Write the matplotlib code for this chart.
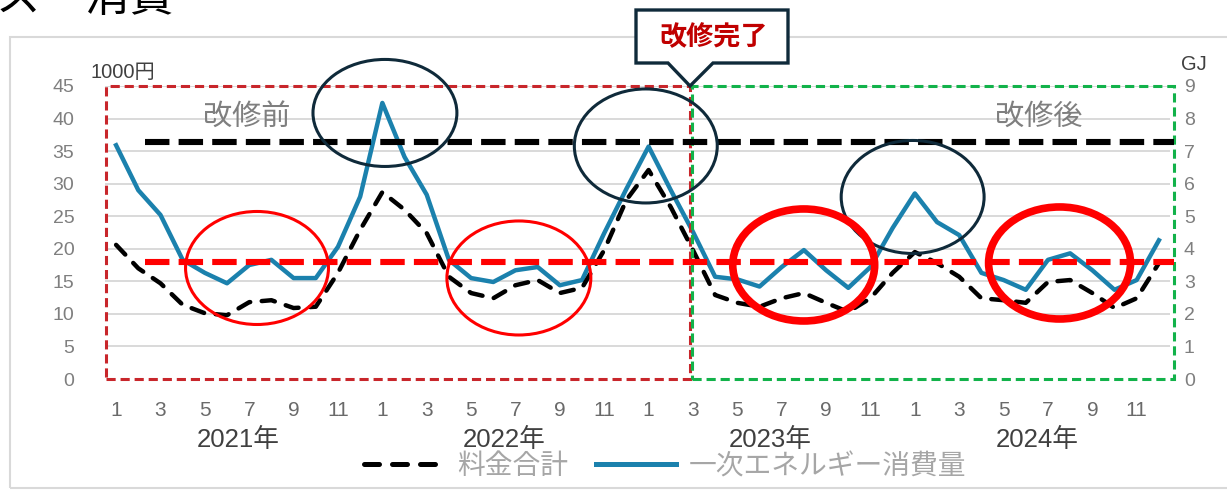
import matplotlib
matplotlib.use("Agg")
import matplotlib.pyplot as plt
from matplotlib.patches import Ellipse, Rectangle, Polygon
from matplotlib.lines import Line2D
import numpy as np

# ---------------- data ----------------
years = ["2021年", "2022年", "2023年", "2024年"]
month_labels = ["1", "3", "5", "7", "9", "11"]
# 料金合計 (1000円), Jan 2021 .. Dec 2024
cost = [20.6, 17.0, 14.7, 11.4, 10.1, 9.8, 11.8, 12.1, 10.9, 11.1, 16.3, 22.9,
        28.7, 26.0, 22.4, 15.7, 13.2, 12.4, 14.4, 15.2, 13.2, 14.0, 19.8, 27.5,
        32.1, 26.4, 19.8, 12.9, 11.7, 11.1, 12.4, 13.2, 11.7, 10.3, 12.4, 16.3,
        19.5, 17.8, 15.7, 12.4, 12.1, 11.7, 14.9, 15.2, 13.2, 10.9, 12.4, 17.8]
# 一次エネルギー消費量 (GJ)
energy = [7.18, 5.80, 5.04, 3.66, 3.26, 2.94, 3.50, 3.66, 3.10, 3.10, 4.06, 5.60,
          8.48, 6.82, 5.66, 3.66, 3.10, 2.98, 3.34, 3.44, 2.88, 3.04, 4.48, 5.84,
          7.14, 5.80, 4.52, 3.14, 3.06, 2.84, 3.44, 3.96, 3.34, 2.80, 3.44, 4.64,
          5.70, 4.82, 4.42, 3.26, 3.04, 2.74, 3.66, 3.86, 3.34, 2.74, 3.04, 4.26]
ref_high = 36.4   # black dashed reference (1000円)
ref_low = 17.9    # red dashed reference (1000円)
left_ticks = list(range(0, 46, 5))
right_ticks = list(range(0, 10))

FAM = ['Liberation Sans', 'Noto Sans CJK JP', 'DejaVu Sans']
JFAM = ['Noto Sans CJK JP', 'DejaVu Sans']
plt.rcParams['font.family'] = FAM

W, H = 1227, 490
fig = plt.figure(figsize=(W / 100, H / 100), dpi=100)

def fx(px):
    return px / W

def fy(py):
    return 1 - py / H

# outer light frame
fig.patches.append(Rectangle((fx(10), fy(488)), 1.2, fy(37) - fy(488),
                             transform=fig.transFigure, fill=False,
                             edgecolor='#d9d9d9', lw=1.5, zorder=0))

# cropped title (cut off at the top edge, as in the source)
fig.text(fx(-4), fy(11), "ス　消費", fontsize=32, family=JFAM, color='black',
         ha='left', va='baseline')

x0, x1, y0, y1 = 105, 1170, 86, 379
ax = fig.add_axes([fx(x0), fy(y1), fx(x1) - fx(x0), fy(y0) - fy(y1)])
ax2 = ax.twinx()
ax.set_zorder(ax2.get_zorder() + 1)
ax.patch.set_visible(False)

n = len(cost)
xs = np.arange(n)
ax.set_xlim(-0.5, n - 0.5)
ax.set_ylim(0, 45)
ax2.set_ylim(0, 9)

for a in (ax, ax2):
    for s in a.spines.values():
        s.set_visible(False)

# grid on ax2 (below everything)
for t in right_ticks[1:]:
    ax2.axhline(t, color='#d9d9d9', lw=1.4, zorder=0)

# blue line (GJ)
ax2.plot(xs, energy, color='#1b81ad', lw=3.2, solid_joinstyle='round', zorder=2)

# black dashed cost line
ln, = ax.plot(xs, cost, color='black', lw=3.2, dash_capstyle='round', zorder=3)
ln.set_dashes((3.0, 2.6))

# ticks
ax.set_yticks(left_ticks)
ax.set_yticklabels([str(t) for t in left_ticks])
ax2.set_yticks(right_ticks)
ax2.set_yticklabels([str(t) for t in right_ticks])
ax.tick_params(axis='y', length=0, pad=22, labelsize=14, labelcolor='#7f7f7f')
ax2.tick_params(axis='y', length=0, pad=10, labelsize=14, labelcolor='#7f7f7f')
xt = list(range(0, n, 2))
ax.set_xticks(xt)
ax.set_xticklabels([month_labels[(i % 12) // 2] for i in xt])
ax.tick_params(axis='x', length=0, pad=16, labelsize=15, labelcolor='#6a6a6a')

# year labels
for k, yl in enumerate(years):
    ax.text(k * 12 + 5.5, -9.3, yl, ha='center', va='center', fontsize=18.5,
            color='#404040', clip_on=False)

# axis unit labels
fig.text(fx(91), fy(72), "1000円", fontsize=14.5, color='#404040', ha='left', va='center')
fig.text(fx(1181), fy(65), "GJ", fontsize=14.5, color='#404040', ha='left', va='center')

# period boxes
ax.add_patch(Rectangle((-0.45, 0), 25.85 + 0.45, 45, fill=False, edgecolor='#c8262b',
                       lw=2.2, ls=(0, (3, 1.6)), clip_on=False, zorder=4))
ax.add_patch(Rectangle((25.95, 0), 47.7 - 25.95, 45, fill=False, edgecolor='#12b24a',
                       lw=2.2, ls=(0, (3, 1.6)), clip_on=False, zorder=4))

# reference lines
for yv, col in ((ref_high, 'black'), (ref_low, '#ff0000')):
    l = Line2D([1.3, 47.7], [yv, yv], color=col, lw=4.4, dash_capstyle='butt',
               clip_on=False, zorder=5)
    l.set_dashes((4.0, 1.5))
    ax.add_line(l)

# period labels
ax.text(5.9, 40.3, "改修前", ha='center', va='center', fontsize=21, color='#7f7f7f',
        family=JFAM, zorder=6)
ax.text(41.6, 40.3, "改修後", ha='center', va='center', fontsize=21, color='#7f7f7f',
        family=JFAM, zorder=6)

# ellipses (given in pixel centre/size, converted to data units)
def ell(cx, cy, w, h, col, lw):
    e = Ellipse(((cx - 116) / 22.2, (379 - cy) / 6.51), w / 22.2, h / 6.51,
                fill=False, edgecolor=col, lw=lw, clip_on=False, zorder=7)
    ax.add_patch(e)

navy = '#0f2a3a'
ell(385, 113, 144, 107, navy, 2.2)
ell(646, 146, 143, 114, navy, 2.2)
ell(913, 197, 143, 113, navy, 2.2)
ell(257, 268, 143, 113, '#ff0000', 2.2)
ell(519, 278, 144, 114, '#ff0000', 2.2)
ell(804, 265, 142, 112, '#ff0000', 5.5)
ell(1060, 263, 142, 112, '#ff0000', 5.5)

# callout
pts = [(636, 10), (788, 10), (788, 63), (713, 63), (690, 86), (668, 63), (636, 63)]
fig.patches.append(Polygon([(fx(px), fy(py)) for px, py in pts], closed=True,
                           transform=fig.transFigure, facecolor='white',
                           edgecolor=navy, lw=2.4, zorder=10))
fig.text(fx(714), fy(37), "改修完了", fontsize=19.5, fontweight='bold', color='#c00000',
         family=JFAM, ha='center', va='center', zorder=11)

# legend
h1 = Line2D([], [], color='black', lw=3.6, dash_capstyle='round')
h1.set_dashes((3.0, 2.6))
h2 = Line2D([], [], color='#1b81ad', lw=3.6)
leg = fig.legend([h1, h2], ["料金合計", "一次エネルギー消費量"], loc='center',
                 bbox_to_anchor=(fx(665), fy(466)), ncol=2, frameon=False,
                 handlelength=2.9, handletextpad=0.45, columnspacing=1.0,
                 borderpad=0, borderaxespad=0,
                 prop={'family': JFAM, 'size': 20})
for t in leg.get_texts():
    t.set_color('#a6a6a6')

fig.savefig("out.png", dpi=100)
